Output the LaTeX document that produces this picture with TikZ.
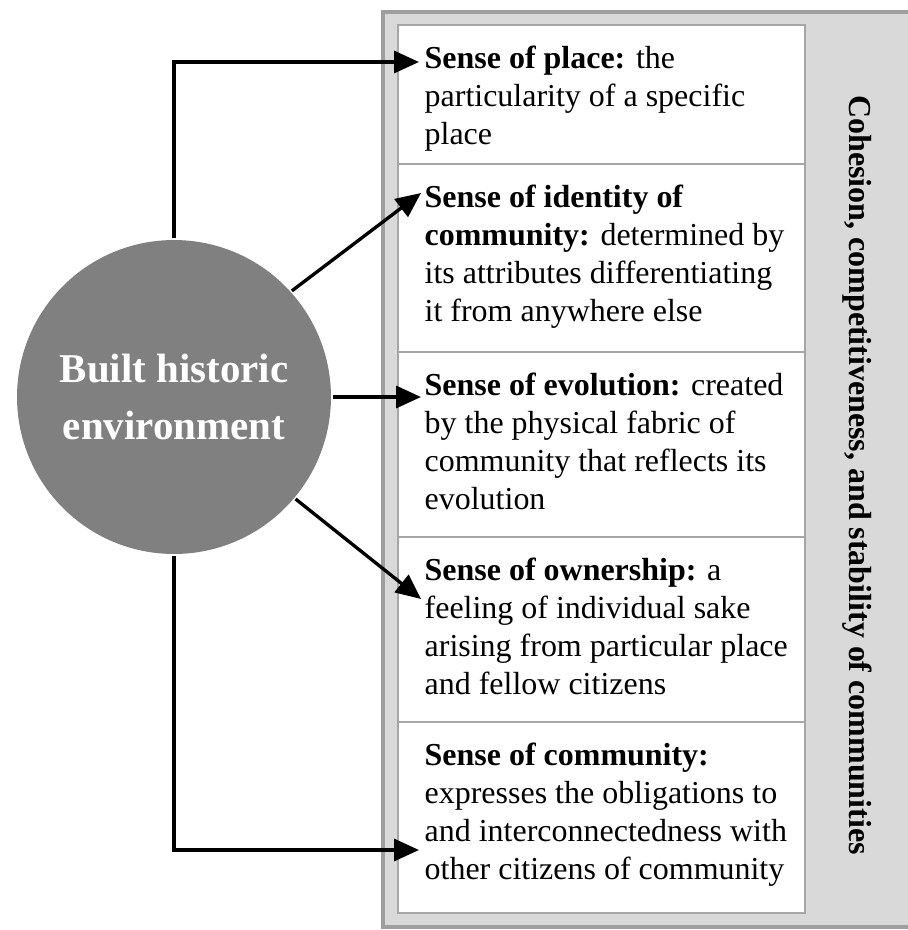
\documentclass[tikz,border=0pt]{standalone}
\usepackage{fontspec}
\setmainfont{Liberation Serif}
\usetikzlibrary{arrows.meta}

\tikzset{
  rowbox/.style={fill=white,draw=gray!70,line width=1.2pt},
  rowtext/.style={anchor=north west,inner sep=0pt,align=left,font=\fontsize{18.2}{21.6}\selectfont},
}

\begin{document}
\begin{tikzpicture}[x=0.02cm,y=-0.02cm,line width=1.9pt,>={Triangle[length=5mm,width=4.4mm]}]
  \useasboundingbox (0,0) rectangle (908,930);
  % marco gris (derecha)
  \fill[gray!30] (383,12) rectangle (908,927);
  \draw[gray!75,line width=2pt] (908,12) -- (383,12) -- (383,927) -- (908,927);
  % filas blancas
  \draw[rowbox] (398,25) rectangle (805,164);
  \draw[rowbox] (398,164) rectangle (805,352);
  \draw[rowbox] (398,352) rectangle (805,537);
  \draw[rowbox] (398,537) rectangle (805,722);
  \draw[rowbox] (398,722) rectangle (805,913);
  % textos de las filas
  \node[rowtext] (place) at (423,44){\textbf{Sense of place:} the\\particularity of a specific\\place};
  \node[rowtext] (identity) at (423,183){\textbf{Sense of identity of}\\\textbf{community:} determined by\\its attributes differentiating\\it from anywhere else};
  \node[rowtext] (evolution) at (423,371){\textbf{Sense of evolution:} created\\by the physical fabric of\\community that reflects its\\evolution};
  \node[rowtext] (ownership) at (423,556){\textbf{Sense of ownership:} a\\feeling of individual sake\\arising from particular place\\and fellow citizens};
  \node[rowtext] (community) at (423,741){\textbf{Sense of community:}\\expresses the obligations to\\and interconnectedness with\\other citizens of community};
  % texto vertical
  \node[rotate=-90,inner sep=0pt,font=\bfseries\fontsize{18.2}{21.6}\selectfont] (cohesion) at (857,475){Cohesion, competitiveness, and stability of communities};
  % circulo
  \node[circle,fill=gray,minimum size=6.28cm,inner sep=0pt,align=center,text=white,font=\bfseries\fontsize{23.3}{32.4}\selectfont] (env) at (174,397){Built historic\\environment};
  % flechas hacia las filas
  \coordinate (tplace) at (419,62);
  \coordinate (tident) at (421,193);
  \coordinate (tevol) at (421,397);
  \coordinate (towner) at (421,599);
  \coordinate (tcomm) at (419,850);
  \draw[->] (env.north) |- (tplace);
  \draw[->] (env.42) -- (tident);
  \draw[->] (env.east) -- (tevol);
  \draw[->] (env.-40) -- (towner);
  \draw[->] (env.south) |- (tcomm);
\end{tikzpicture}
\end{document}
